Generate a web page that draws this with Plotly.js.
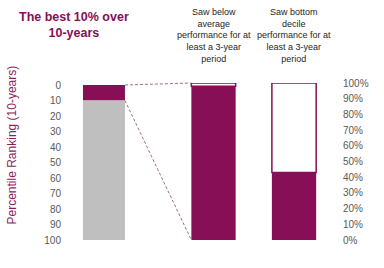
<!DOCTYPE html>
<html>
<head>
<meta charset="utf-8">
<script src="https://cdn.plot.ly/plotly-3.0.1.min.js"></script>
<style>html,body{margin:0;padding:0;background:#fff;}#chart{width:384px;height:268px;}</style>
</head>
<body>
<div id="chart"></div>
<script>
// ---- data ----
const chartTitle = 'The best 10% over<br>10-years';
const leftCategory = ['Top 10% of funds'];
const topDecileRanking = [10];        // percentile ranking 0-10 (best 10%)
const remainingRanking = [90];        // percentile ranking 10-100
const rightCategories = ['Below average', 'Bottom decile'];
const rightLabels = [
  'Saw below<br>average<br>performance for at<br>least a 3-year<br>period',
  'Saw bottom<br>decile<br>performance for at<br>least a 3-year<br>period'
];
const sawPct = [98, 43];               // % of best-10% funds that experienced it
const notSawPct = sawPct.map(v => 100 - v);
const leftTicks = [0, 10, 20, 30, 40, 50, 60, 70, 80, 90, 100];
const rightTicks = [0, 10, 20, 30, 40, 50, 60, 70, 80, 90, 100];
const rightTickText = rightTicks.map(v => v + '%');

// ---- styles ----
const MAROON = '#860F55';
const GREY = '#BFBFBF';
const FONT = 'Liberation Sans, Arial, sans-serif';

const xaxis = {domain: [0, 0.303], range: [-0.5, 0.5], type: 'category', visible: false};
const xaxis2 = {domain: [0.4016, 0.983], range: [-0.5, 1.5], type: 'category', visible: false, anchor: 'y2'};
const yaxis = {range: [100, -1.3], tickmode: 'array', tickvals: leftTicks, showgrid: false, zeroline: false, showline: false,
  ticks: '', tickfont: {family: FONT, size: 10, color: '#595959'}};
const yaxis2 = {range: [0, 100], tickmode: 'array', tickvals: rightTicks, ticktext: rightTickText, overlaying: 'y', side: 'right',
  anchor: 'free', position: 1, showgrid: false, zeroline: false, showline: false, ticks: '', ticklabelstandoff: 3,
  tickfont: {family: FONT, size: 10, color: '#595959'}};

function px(ax, v) { return ax.domain[0] + (v - ax.range[0]) / (ax.range[1] - ax.range[0]) * (ax.domain[1] - ax.domain[0]); }
function py(ax, v) { return (v - ax.range[0]) / (ax.range[1] - ax.range[0]); }

const w1 = 0.5, w2 = 0.55;

const traces = [
  {type: 'bar', x: leftCategory, y: topDecileRanking, base: [0], width: w1, xaxis: 'x', yaxis: 'y',
   marker: {color: MAROON}, hoverinfo: 'skip'},
  {type: 'bar', x: leftCategory, y: remainingRanking, base: topDecileRanking, width: w1, xaxis: 'x', yaxis: 'y',
   marker: {color: GREY}, hoverinfo: 'skip'},
  {type: 'bar', x: rightCategories, y: sawPct, base: [0, 0], width: w2, xaxis: 'x2', yaxis: 'y2',
   marker: {color: MAROON}, hoverinfo: 'skip'},
  {type: 'bar', x: rightCategories, y: notSawPct, base: sawPct, width: w2, xaxis: 'x2', yaxis: 'y2',
   marker: {color: '#ffffff', line: {color: MAROON, width: 1.5}}, hoverinfo: 'skip'}
];

const xa = px(xaxis, w1 / 2);
const xb = px(xaxis2, -w2 / 2);
const lineStyle = {color: '#A86890', width: 1, dash: '3px,2px'};
const shapes = [
  {type: 'line', xref: 'paper', yref: 'paper', x0: xa, y0: py(yaxis, 0), x1: xb, y1: py(yaxis2, 100), line: lineStyle},
  {type: 'line', xref: 'paper', yref: 'paper', x0: xa, y0: py(yaxis, topDecileRanking[0]), x1: xb, y1: py(yaxis2, 0), line: lineStyle}
];

const annotations = rightLabels.map((t, i) => ({
  text: t, xref: 'x2', x: rightCategories[i], yref: 'paper', y: 1.30, yanchor: 'middle', xanchor: 'center',
  showarrow: false, align: 'center', font: {family: FONT, size: 9, color: '#262626'}
}));
annotations.push({
  text: 'Percentile Ranking (10-years)', xref: 'paper', yref: 'paper', x: -0.1805, y: 0.602,
  textangle: -90, showarrow: false, xanchor: 'center', yanchor: 'middle',
  font: {family: FONT, size: 12, color: '#8A1D5C'}
});
annotations.push({
  text: '<b>' + chartTitle + '</b>', xref: 'paper', yref: 'paper', x: 0.045, y: 1.369,
  xanchor: 'center', yanchor: 'middle', align: 'center', showarrow: false,
  font: {family: FONT, size: 12.5, color: MAROON}
});

const layout = {
  width: 384, height: 268,
  margin: {l: 62, r: 45, t: 83, b: 28},
  paper_bgcolor: '#fff', plot_bgcolor: '#fff',
  showlegend: false, barmode: 'overlay',
  xaxis: xaxis, xaxis2: xaxis2, yaxis: yaxis, yaxis2: yaxis2,
  shapes: shapes, annotations: annotations
};

Plotly.newPlot('chart', traces, layout, {staticPlot: true, displayModeBar: false});
</script>
</body>
</html>
